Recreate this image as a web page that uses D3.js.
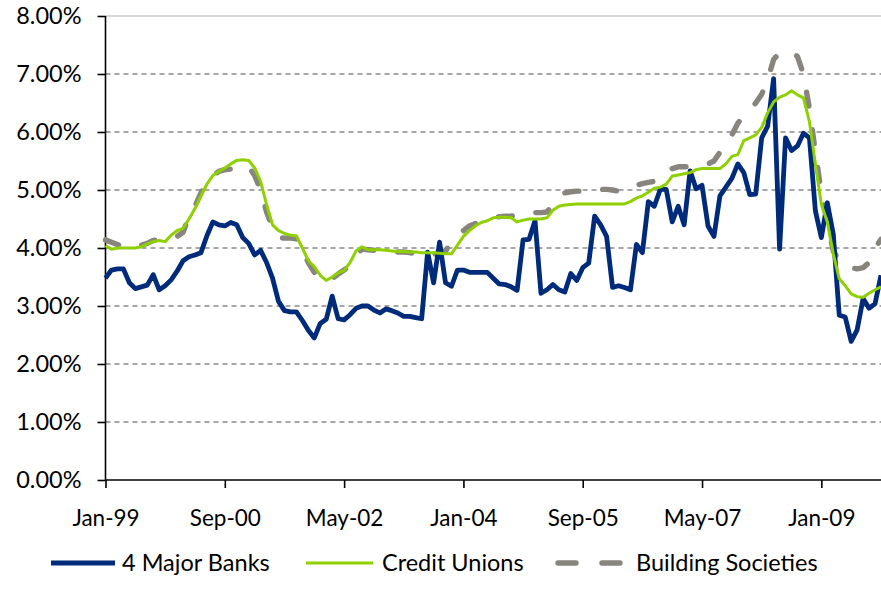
<!DOCTYPE html>
<html>
<head>
<meta charset="utf-8">
<script src="https://cdn.jsdelivr.net/npm/d3@7"></script>
<style>
  body { margin: 0; background: #fff; }
  svg text { font-family: Lato, "Open Sans", sans-serif; fill: #000; }
</style>
</head>
<body>
<div id="chart"></div>
<script>
// monthly series, Jan-99 .. Nov-09 (131 months), in percent
const tickLabels = ["Jan-99", "Sep-00", "May-02", "Jan-04", "Sep-05", "May-07", "Jan-09"];
const yTicks = [0, 1, 2, 3, 4, 5, 6, 7, 8];
const seriesNames = ["4 Major Banks", "Credit Unions", "Building Societies"];

const majorBanks = [
  3.48, 3.62, 3.64, 3.64, 3.40, 3.30, 3.33, 3.36, 3.54, 3.28,
  3.35, 3.45, 3.60, 3.78, 3.85, 3.88, 3.92, 4.21, 4.45, 4.40,
  4.38, 4.44, 4.40, 4.18, 4.08, 3.88, 3.96, 3.75, 3.48, 3.08,
  2.92, 2.90, 2.90, 2.75, 2.58, 2.45, 2.70, 2.77, 3.17, 2.78,
  2.76, 2.85, 2.96, 3.00, 3.00, 2.93, 2.88, 2.95, 2.92, 2.88,
  2.82, 2.82, 2.80, 2.78, 3.93, 3.40, 4.10, 3.40, 3.34, 3.62,
  3.62, 3.58, 3.58, 3.58, 3.58, 3.48, 3.38, 3.37, 3.33, 3.27,
  4.14, 4.15, 4.47, 3.22, 3.28, 3.37, 3.28, 3.24, 3.56, 3.44,
  3.66, 3.74, 4.55, 4.40, 4.20, 3.32, 3.35, 3.32, 3.28, 4.06,
  3.92, 4.80, 4.72, 5.01, 5.01, 4.45, 4.72, 4.40, 5.33, 5.02,
  5.08, 4.38, 4.20, 4.90, 5.05, 5.20, 5.45, 5.30, 4.92, 4.93,
  5.90, 6.10, 6.92, 3.98, 5.90, 5.68, 5.76, 5.98, 5.90, 4.64,
  4.18, 4.78, 4.24, 2.84, 2.81, 2.39, 2.59, 3.13, 2.96, 3.04,
  3.53
];

const creditUnions = [
  4.04, 3.98, 4.00, 4.00, 4.00, 4.00, 4.02, 4.07, 4.11, 4.13,
  4.11, 4.22, 4.30, 4.34, 4.50, 4.68, 4.90, 5.10, 5.25, 5.32,
  5.38, 5.45, 5.51, 5.52, 5.51, 5.38, 5.15, 4.75, 4.40, 4.30,
  4.25, 4.22, 4.21, 4.00, 3.78, 3.68, 3.53, 3.44, 3.50, 3.57,
  3.61, 3.75, 3.95, 4.02, 3.97, 3.97, 3.97, 3.96, 3.95, 3.94,
  3.94, 3.93, 3.93, 3.92, 3.92, 3.92, 3.91, 3.90, 3.90, 4.05,
  4.20, 4.30, 4.38, 4.44, 4.47, 4.52, 4.53, 4.53, 4.52, 4.45,
  4.48, 4.50, 4.50, 4.50, 4.52, 4.65, 4.72, 4.74, 4.75, 4.76,
  4.76, 4.76, 4.76, 4.76, 4.76, 4.76, 4.76, 4.76, 4.80, 4.86,
  4.90, 4.96, 5.03, 5.05, 5.10, 5.24, 5.26, 5.28, 5.30, 5.35,
  5.37, 5.37, 5.37, 5.37, 5.45, 5.58, 5.61, 5.85, 5.90, 5.95,
  6.08, 6.33, 6.52, 6.60, 6.64, 6.71, 6.64, 6.59, 6.18, 5.45,
  4.75, 4.45, 3.90, 3.47, 3.35, 3.21, 3.16, 3.15, 3.22, 3.28,
  3.33
];

const buildingSocieties = [
  4.14, 4.10, 4.06, 4.02, 4.00, 4.02, 4.05, 4.08, 4.13, 4.14,
  4.14, 4.14, 4.20, 4.27, 4.55, 4.72, 4.95, 5.13, 5.25, 5.32,
  5.35, 5.36, 5.37, 5.39, 5.40, 5.25, 5.00, 4.62, 4.35, 4.18,
  4.17, 4.17, 4.16, 3.95, 3.75, 3.58, 3.46, 3.44, 3.47, 3.55,
  3.62, 3.70, 3.88, 3.98, 3.97, 3.96, 3.96, 3.95, 3.94, 3.93,
  3.93, 3.92, 3.90, 3.87, 3.87, 3.89, 3.92, 3.95, 4.10, 4.20,
  4.30, 4.38, 4.42, 4.45, 4.47, 4.52, 4.54, 4.55, 4.55, 4.57,
  4.60, 4.61, 4.61, 4.61, 4.62, 4.75, 4.90, 4.95, 4.97, 4.98,
  4.98, 4.99, 5.00, 5.01, 5.01, 5.00, 4.98, 4.98, 5.03, 5.08,
  5.11, 5.13, 5.15, 5.18, 5.28, 5.37, 5.40, 5.40, 5.40, 5.40,
  5.42, 5.45, 5.50, 5.65, 5.76, 5.95, 6.15, 6.28, 6.38, 6.50,
  6.65, 6.90, 7.25, 7.37, 7.38, 7.38, 7.30, 7.00, 6.40, 5.65,
  4.95, 4.45, 3.95, 3.78, 3.70, 3.66, 3.64, 3.66, 3.75, 4.00,
  4.15
];

const width = 881,
  height = 606,
  margin = { top: 16, right: 0, bottom: 126, left: 105.5 };

const svg = d3.select("#chart")
  .append("svg")
  .attr("width", width)
  .attr("height", height);

const xScale = d3.scaleLinear()
  .domain([0, majorBanks.length - 1])
  .range([margin.left, width - margin.right]);

const yScale = d3.scaleLinear()
  .domain([0, 8])
  .range([height - margin.bottom, margin.top]);

// gridlines
svg.append("g")
  .selectAll("line")
  .data(yTicks.filter(d => d > 0))
  .join("line")
  .attr("x1", margin.left)
  .attr("x2", width)
  .attr("y1", d => yScale(d))
  .attr("y2", d => yScale(d))
  .attr("stroke", d => d === 8 ? "#c8c8c8" : "#8a8a8a")
  .attr("stroke-width", d => d === 8 ? 1.5 : 1.6)
  .attr("stroke-dasharray", d => d === 8 ? null : "5,4");

// axes
const yAxis = d3.axisLeft(yScale)
  .tickValues(yTicks)
  .tickSize(8)
  .tickPadding(16)
  .tickFormat(d => d3.format(".2f")(d) + "%");

const xAxis = d3.axisBottom(xScale)
  .tickValues(tickLabels.map((d, i) => i * 20))
  .tickSize(8)
  .tickPadding(22)
  .tickFormat((d, i) => tickLabels[i]);

svg.append("g")
  .attr("class", "axis y-axis")
  .attr("transform", `translate(${margin.left},0)`)
  .call(yAxis)
  .call(g => g.selectAll("text").style("font-size", "23.5px"));

svg.append("g")
  .attr("class", "axis x-axis")
  .attr("transform", `translate(0,${height - margin.bottom})`)
  .call(xAxis)
  .call(g => g.selectAll("text").style("font-size", "22.5px"));

svg.selectAll(".axis path, .axis line")
  .attr("stroke", "#000")
  .attr("stroke-width", 1.6);
svg.selectAll(".axis path").attr("d", function () {
  return d3.select(this.parentNode).classed("y-axis")
    ? `M0,${yScale(0)}V${yScale(8)}`
    : `M${margin.left},0H${width}`;
});

// lines
const line = d3.line()
  .x((d, i) => xScale(i))
  .y(d => yScale(d));

svg.append("path")
  .datum(buildingSocieties)
  .attr("fill", "none")
  .attr("stroke", "#87857d")
  .attr("stroke-width", 5.4)
  .attr("stroke-linecap", "round")
  .attr("stroke-linejoin", "round")
  .attr("stroke-dasharray", "14,24")
  .attr("d", line);

svg.append("path")
  .datum(majorBanks)
  .attr("fill", "none")
  .attr("stroke", "#002a7a")
  .attr("stroke-width", 4.8)
  .attr("stroke-linejoin", "round")
  .attr("d", line);

svg.append("path")
  .datum(creditUnions)
  .attr("fill", "none")
  .attr("stroke", "#8fd000")
  .attr("stroke-width", 3)
  .attr("stroke-linejoin", "round")
  .attr("d", line);

// legend
const legendItems = [
  { name: seriesNames[0], x1: 51, x2: 115, tx: 122, color: "#002a7a", w: 4.8, dash: null },
  { name: seriesNames[1], x1: 306, x2: 373, tx: 382, color: "#8fd000", w: 3, dash: null },
  { name: seriesNames[2], x1: 558, x2: 622, tx: 636, color: "#87857d", w: 5.4, dash: "18,26" }
];
const legendY = 563;

const legend = svg.append("g").attr("class", "legend");
legend.selectAll("line")
  .data(legendItems)
  .join("line")
  .attr("x1", d => d.x1)
  .attr("x2", d => d.x2)
  .attr("y1", legendY)
  .attr("y2", legendY)
  .attr("stroke", d => d.color)
  .attr("stroke-width", d => d.w)
  .attr("stroke-linecap", d => d.dash ? "round" : "butt")
  .attr("stroke-dasharray", d => d.dash);

legend.selectAll("text")
  .data(legendItems)
  .join("text")
  .attr("x", d => d.tx)
  .attr("y", legendY)
  .attr("dy", "0.35em")
  .style("font-size", "23.5px")
  .text(d => d.name);
</script>
</body>
</html>
